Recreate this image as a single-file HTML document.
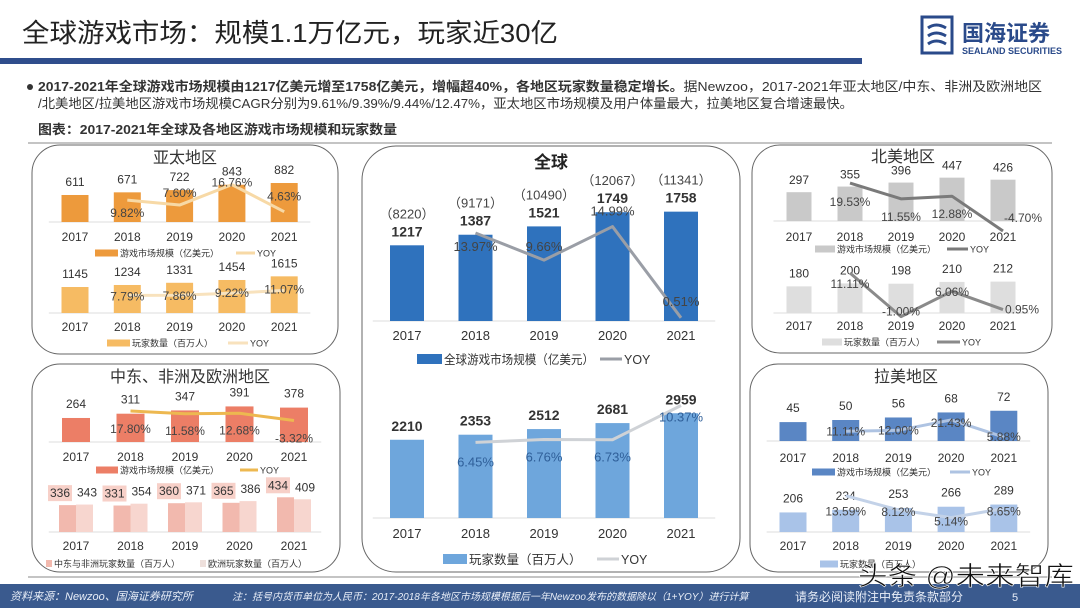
<!DOCTYPE html>
<html><head><meta charset="utf-8">
<style>
html,body{margin:0;padding:0;background:#fff;}
svg{display:block;font-family:"Liberation Sans","Noto Sans CJK SC",sans-serif;}
</style></head>
<body>
<svg id="s" width="1080" height="608" viewBox="0 0 1080 608" xmlns="http://www.w3.org/2000/svg">
<text x="22" y="42" font-size="26" fill="#222" textLength="536" lengthAdjust="spacingAndGlyphs">全球游戏市场：规模1.1万亿元，玩家近30亿</text>
<rect x="0" y="58" width="862" height="6" fill="#2f4d8c"/>
<g>
<rect x="922" y="17" width="30" height="36" fill="none" stroke="#2a4a8a" stroke-width="3"/>
<path d="M928 28 q8 -6 18 0 M928 36 q8 -6 18 0 M928 44 q8 -6 18 0" stroke="#2a4a8a" stroke-width="3" fill="none"/>
<text x="962" y="41" font-size="22" font-weight="bold" fill="#2a4a8a">国海证券</text>
<text x="962" y="54" font-size="9" font-weight="bold" fill="#2a4a8a">SEALAND SECURITIES</text>
</g>
<circle cx="30" cy="87" r="3" fill="#333"/>
<text x="38" y="91" font-size="13" fill="#333" textLength="1004" lengthAdjust="spacingAndGlyphs"><tspan font-weight="bold">2017-2021年全球游戏市场规模由1217亿美元增至1758亿美元，增幅超40%，各地区玩家数量稳定增长。</tspan>据Newzoo，2017-2021年亚太地区/中东、非洲及欧洲地区</text>
<text x="38" y="108" font-size="13" fill="#333" textLength="815" lengthAdjust="spacingAndGlyphs">/北美地区/拉美地区游戏市场规模CAGR分别为9.61%/9.39%/9.44%/12.47%，亚太地区市场规模及用户体量最大，拉美地区复合增速最快。</text>
<text x="38" y="134" font-size="13" font-weight="bold" fill="#333" textLength="359" lengthAdjust="spacingAndGlyphs">图表：2017-2021年全球及各地区游戏市场规模和玩家数量</text>
<line x1="28" y1="143" x2="1052" y2="143" stroke="#888" stroke-width="1"/>
<line x1="28" y1="577" x2="1052" y2="577" stroke="#888" stroke-width="1"/>
<rect x="32" y="145" width="306" height="209" rx="28" fill="#fff" stroke="#666" stroke-width="1"/>
<rect x="32" y="364" width="308" height="208" rx="28" fill="#fff" stroke="#666" stroke-width="1"/>
<rect x="362" y="146" width="378" height="426" rx="34" fill="#fff" stroke="#666" stroke-width="1"/>
<rect x="752" y="145" width="300" height="208" rx="28" fill="#fff" stroke="#666" stroke-width="1"/>
<rect x="750" y="364" width="298" height="208" rx="28" fill="#fff" stroke="#666" stroke-width="1"/>
<text x="185" y="163" font-size="16" text-anchor="middle" fill="#333">亚太地区</text>
<text x="190" y="382" font-size="16" text-anchor="middle" fill="#333">中东、非洲及欧洲地区</text>
<text x="903" y="162" font-size="16" text-anchor="middle" fill="#333">北美地区</text>
<text x="906" y="382" font-size="16" text-anchor="middle" fill="#333">拉美地区</text>
<text x="551" y="168" font-size="17" font-weight="bold" text-anchor="middle" fill="#222">全球</text>
<g id="charts"></g>
<rect x="0" y="584" width="1080" height="24" fill="#3a5a8e"/>
<text x="10" y="600" font-size="11" font-style="italic" fill="#e8eef8">资料来源：Newzoo、国海证券研究所</text>
<text x="232" y="600" font-size="10" font-style="italic" fill="#e8eef8">注：括号内货币单位为人民币：2017-2018年各地区市场规模根据后一年Newzoo发布的数据除以（1+YOY）进行计算</text>
<text x="795" y="601" font-size="12" fill="#e8eef8">请务必阅读附注中免责条款部分</text>
<text x="1012" y="601" font-size="11" fill="#e8eef8">5</text>
<text x="858" y="585" font-size="26" fill="#111" stroke="#fff" stroke-width="0.6" textLength="216" lengthAdjust="spacingAndGlyphs">头条 @未来智库</text>
</svg>
<script>
const years = ["2017","2018","2019","2020","2021"];
const asiaRevenue = [611,671,722,843,882];
const asiaRevenueYoy = [null,9.82,7.60,16.76,4.63];
const asiaPlayers = [1145,1234,1331,1454,1615];
const asiaPlayersYoy = [null,7.79,7.86,9.22,11.07];
const emeaRevenue = [264,311,347,391,378];
const emeaRevenueYoy = [null,17.80,11.58,12.68,-3.32];
const meaPlayers = [336,331,360,365,434];
const euPlayers = [343,354,371,386,409];
const naRevenue = [297,355,396,447,426];
const naRevenueYoy = [null,19.53,11.55,12.88,-4.70];
const naPlayers = [180,200,198,210,212];
const naPlayersYoy = [null,11.11,-1.00,6.06,0.95];
const latamRevenue = [45,50,56,68,72];
const latamRevenueYoy = [null,11.11,12.00,21.43,5.88];
const latamPlayers = [206,234,253,266,289];
const latamPlayersYoy = [null,13.59,8.12,5.14,8.65];
const globalRevenue = [1217,1387,1521,1749,1758];
const globalRevenueRmb = [8220,9171,10490,12067,11341];
const globalRevenueYoy = [null,13.97,9.66,14.99,0.51];
const globalPlayers = [2210,2353,2512,2681,2959];
const globalPlayersYoy = [null,6.45,6.76,6.73,10.37];

const NS="http://www.w3.org/2000/svg";
const G=document.getElementById('charts');
function mk(tag,attrs,txt){const e=document.createElementNS(NS,tag);for(const k in attrs)e.setAttribute(k,attrs[k]);if(txt!==undefined)e.textContent=txt;G.appendChild(e);return e;}

function chart(o){
  const xs=i=>o.x0+i*o.dx;
  const yb=v=>o.base-v*o.k;
  const yl=v=>o.lBase-v*o.lK;
  const fs=o.fs||12;
  mk('line',{x1:xs(0)-o.dx/2,x2:xs(4)+o.dx/2,y1:o.base,y2:o.base,stroke:'#ddd','stroke-width':1});
  o.bars.forEach((v,i)=>{
    const r=mk('rect',{x:xs(i)-o.bw/2,y:yb(v),width:o.bw,height:v*o.k,fill:o.color});
    
    
    const t=mk('text',{x:xs(i),y:yb(v)-(o.vDy||8),'font-size':o.vfs||fs,'text-anchor':'middle',fill:'#333','font-weight':o.bold?'bold':'normal'},String(v));
    
    
    if(o.rmb){
      const p=mk('text',{x:xs(i),y:yb(v)-27,'font-size':13,'text-anchor':'middle',fill:'#444'},'（'+o.rmb[i]+'）');
      
      
    }
    const yt=mk('text',{x:xs(i),y:o.yearY,'font-size':o.yfs||fs,'text-anchor':'middle',fill:'#333'},years[i]);
    
    
  });
  if(o.yoy){
    let d='';
    o.yoy.forEach((v,i)=>{if(v===null)return;d+=(d?'L':'M')+xs(i)+' '+yl(v);});
    const p=mk('path',{d:d,fill:'none',stroke:o.lColor,'stroke-width':o.lW||3,'stroke-linejoin':'round'});
    
    
    o.yoy.forEach((v,i)=>{if(v===null)return;
      const t=mk('text',{x:xs(i)+(o.pDx?o.pDx[i]:0),y:yl(v)+o.pDy[i]+4,'font-size':o.pfs||fs,'text-anchor':'middle',fill:o.pColor||'#444'},v.toFixed(2)+'%');
      
      
    });
  }
  const L=o.leg;
  const lr=mk('rect',{x:L.rx,y:L.y-L.h/2,width:L.rw,height:L.h,fill:o.color});
  
  
  const la={x:L.rx+L.rw+2,y:L.y+L.fs*0.38,'font-size':L.fs,fill:'#333'};
  if(L.tl){la.textLength=L.tl;la.lengthAdjust='spacingAndGlyphs';}
  const lt=mk('text',la,L.label);
  
  
  if(o.yoy && L.lw>0){
    const ll=mk('line',{x1:L.lx,x2:L.lx+L.lw,y1:L.y,y2:L.y,stroke:o.lColor,'stroke-width':o.lW||3});
    
    
    const ly=mk('text',{x:L.lx+L.lw+2,y:L.y+L.fs*0.38,'font-size':L.fs,fill:'#333'},'YOY');
    
    
  }
}

chart({name:'asia-revenue',bars:asiaRevenue,yoy:asiaRevenueYoy,x0:75,dx:52.3,bw:27,base:222,k:0.0442,lBase:222,lK:2.23,color:'#ed9a3c',lColor:'#f7d9a6',pDy:[0,13,-12,-2,-15],yearY:241,vDy:9,
  leg:{y:253,rx:95,rw:23,h:7,fs:9,label:'游戏市场规模（亿美元）',lx:236,lw:19}});
chart({name:'asia-players',bars:asiaPlayers,yoy:asiaPlayersYoy,x0:75,dx:52.3,bw:27,base:313,k:0.0227,lBase:307,lK:1.5,color:'#f6bb63',lColor:'#f8e2bd',pDy:[0,1,1,0,-1],yearY:331,vDy:9,
  leg:{y:343,rx:107,rw:23,h:7,fs:9,label:'玩家数量（百万人）',lx:228,lw:20}});
chart({name:'emea-revenue',bars:emeaRevenue,yoy:emeaRevenueYoy,x0:76,dx:54.5,bw:28,base:442,k:0.091,lBase:419,lK:0.45,color:'#ec7e66',lColor:'#edb850',pDy:[0,18,17,17,18],yearY:461,vDy:10,
  leg:{y:470,rx:96,rw:22,h:7,fs:9,label:'游戏市场规模（亿美元）',lx:240,lw:18}});
chart({name:'na-revenue',bars:naRevenue,yoy:naRevenueYoy,x0:799,dx:51,bw:25,base:221,k:0.097,lBase:221.7,lK:1.98,color:'#c9c9c9',lColor:'#7a7a7a',pDy:[0,19,18,18,-13],pDx:[0,0,0,0,20],yearY:241,vDy:8,
  leg:{y:249,rx:815,rw:20,h:7,fs:9,label:'游戏市场规模（亿美元）',lx:947,lw:21}});
chart({name:'na-players',bars:naPlayers,yoy:naPlayersYoy,x0:799,dx:51,bw:25,base:313,k:0.148,lBase:313,lK:3.6,color:'#dedede',lColor:'#8a8a8a',pDy:[0,11,-5,1,0],pDx:[0,0,0,0,19],yearY:330,vDy:9,
  leg:{y:342,rx:822,rw:20,h:7,fs:9,label:'玩家数量（百万人）',lx:937,lw:23}});
chart({name:'latam-revenue',bars:latamRevenue,yoy:latamRevenueYoy,x0:793,dx:52.7,bw:27,base:441,k:0.42,lBase:443.5,lK:1.1,color:'#5a86c4',lColor:'#aec3e2',pDy:[0,0,0,3,0],yearY:462,vDy:10,
  leg:{y:472,rx:812,rw:23,h:7,fs:9,label:'游戏市场规模（亿美元）',lx:950,lw:20}});
chart({name:'latam-players',bars:latamPlayers,yoy:latamPlayersYoy,x0:793,dx:52.7,bw:27,base:532,k:0.095,lBase:531,lK:2.6,color:'#a9c3e8',lColor:'#c3d2e8',pDy:[0,16,2,4,3],yearY:550,vDy:10,
  leg:{y:564,rx:820,rw:18,h:7,fs:9,label:'玩家数量（百万人）',lx:0,lw:0}});
chart({name:'global-revenue',bars:globalRevenue,rmb:globalRevenueRmb,yoy:globalRevenueYoy,x0:407,dx:68.5,bw:34,base:321,k:0.0622,lBase:321,lK:6.3,color:'#2f72bd',lColor:'#9a9ea6',pDy:[0,14,-13,-15,-16],yearY:340,vDy:9,bold:true,vfs:14,fs:13,
  leg:{y:359,rx:417,rw:25,h:10,fs:12.5,tl:150,label:'全球游戏市场规模（亿美元）',lx:600,lw:22}});
chart({name:'global-players',bars:globalPlayers,yoy:globalPlayersYoy,x0:407,dx:68.5,bw:34,base:518,k:0.0354,lBase:503,lK:9.4,color:'#6ea6dc',lColor:'#cfd2d6',pDy:[0,20,18,18,12],pColor:'#2f5f99',yearY:538,vDy:9,bold:true,vfs:14,fs:13,
  leg:{y:559,rx:443,rw:24,h:10,fs:12.5,label:'玩家数量（百万人）',lx:597,lw:22}});

// EMEA grouped players chart
(function(){
  const x0=76,dx=54.5,bw=17,base=532,k=0.08;
  mk('line',{x1:x0-dx/2,x2:x0+4*dx+dx/2,y1:base,y2:base,stroke:'#ddd','stroke-width':1});
  years.forEach((y,i)=>{
    const cx=x0+i*dx;
    const a=mk('rect',{x:cx-bw,y:base-meaPlayers[i]*k,width:bw,height:meaPlayers[i]*k,fill:'#f2b9ae'});
    
    
    const b=mk('rect',{x:cx,y:base-euPlayers[i]*k,width:bw,height:euPlayers[i]*k,fill:'#f7d6cf'});
    
    
    const ly=base-meaPlayers[i]*k-8;
    const bg=mk('rect',{x:cx-28,y:ly-12,width:24,height:16,fill:'#f7d0c8'});
    
    
    const ta=mk('text',{x:cx-16,y:ly,'font-size':12,'text-anchor':'middle',fill:'#333'},String(meaPlayers[i]));
    
    
    const tb=mk('text',{x:cx+11,y:base-euPlayers[i]*k-8,'font-size':12,'text-anchor':'middle',fill:'#333'},String(euPlayers[i]));
    
    
    const yt=mk('text',{x:cx,y:550,'font-size':12,'text-anchor':'middle',fill:'#333'},y);
    
    
  });
  const s1=mk('rect',{x:46,y:560,width:6,height:7,fill:'#f2b9ae'});
  
  
  const t1=mk('text',{x:54,y:567,'font-size':9,fill:'#333'},'中东与非洲玩家数量（百万人）');
  
  
  const s2=mk('rect',{x:200,y:560,width:6,height:7,fill:'#eee0dc'});
  
  
  const t2=mk('text',{x:208,y:567,'font-size':9,fill:'#333'},'欧洲玩家数量（百万人）');
  
  
})();
</script>
</body></html>
